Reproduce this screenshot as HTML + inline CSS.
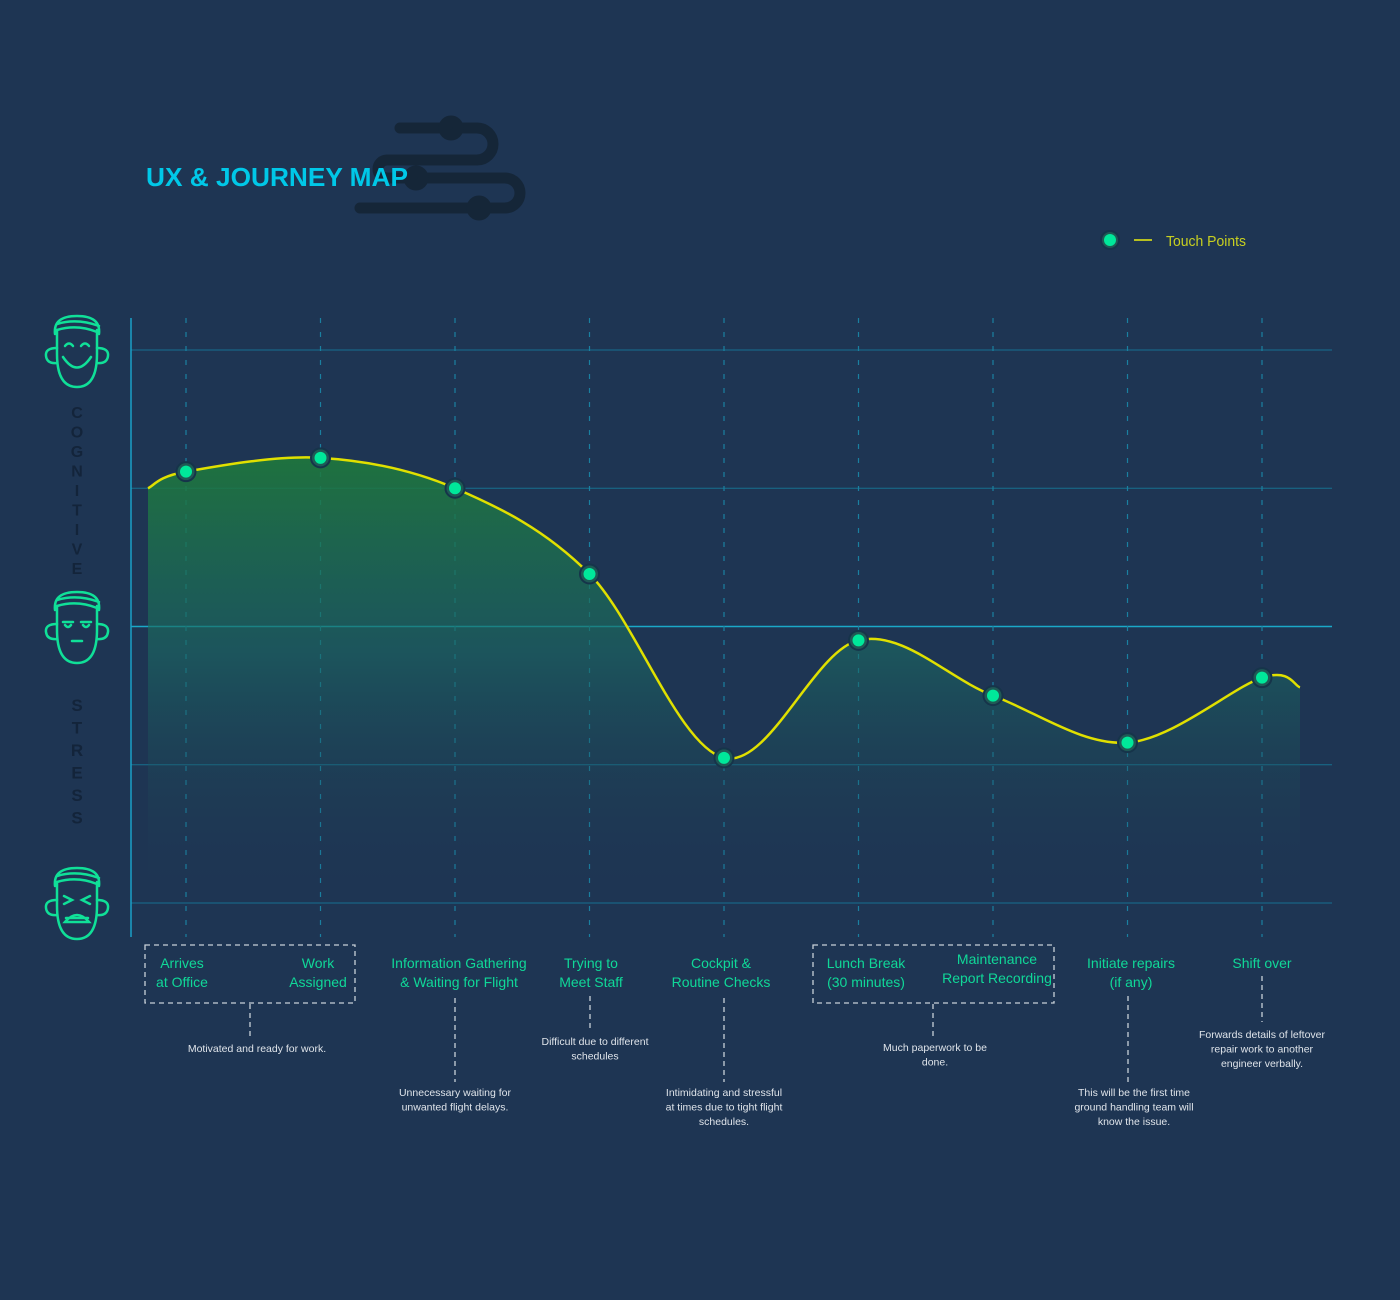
<!DOCTYPE html>
<html><head><meta charset="utf-8"><style>
html,body{margin:0;padding:0;background:#1e3553;}
body{width:1400px;height:1295px;overflow:hidden;font-family:"Liberation Sans",sans-serif;}
</style></head><body>
<svg id="chart" width="1400" height="1295" viewBox="0 0 1400 1295" xmlns="http://www.w3.org/2000/svg">
<defs>
<linearGradient id="fillg" gradientUnits="userSpaceOnUse" x1="0" y1="450" x2="0" y2="900">
<stop offset="0" stop-color="#1f7a3a" stop-opacity="0.9"/>
<stop offset="0.45" stop-color="#1a6a62" stop-opacity="0.6"/>
<stop offset="1" stop-color="#1e3553" stop-opacity="0"/>
</linearGradient>
</defs>
<rect x="0" y="0" width="1400" height="1295" fill="#1e3553"/>
<g fill="none" stroke="#152638" stroke-width="11" stroke-linecap="round">
<path d="M400 128 H477 A16 16 0 0 1 477 160 H387 A9 9 0 0 0 387 178 H505 A15 15 0 0 1 505 208 H360"/>
<circle cx="451" cy="128" r="7" fill="#152638"/>
<circle cx="416" cy="178" r="7" fill="#152638"/>
<circle cx="479" cy="208" r="7" fill="#152638"/>
</g>
<text x="146" y="186" font-family="Liberation Sans" font-weight="bold" font-size="26" textLength="262" lengthAdjust="spacingAndGlyphs" fill="#00c8e8">UX &amp; JOURNEY MAP</text>
<g>
<circle cx="1110" cy="240" r="9" fill="#1f5a55" stroke="#16344a" stroke-width="2"/>
<circle cx="1110" cy="240" r="6" fill="#00e89a"/>
<line x1="1134" y1="240" x2="1152" y2="240" stroke="#b8c020" stroke-width="2"/>
<text x="1166" y="246" font-size="14.5" textLength="80" lengthAdjust="spacingAndGlyphs" fill="#c8d020">Touch Points</text>
</g>
<g id="grid"></g>
<g id="faces"></g>
<g id="plot"></g>
<g id="labels"></g>
</svg>
<script>
const stages=["Arrives at Office","Work Assigned","Information Gathering & Waiting for Flight","Trying to Meet Staff","Cockpit & Routine Checks","Lunch Break (30 minutes)","Maintenance Report Recording","Initiate repairs (if any)","Shift over"];
const values=[3.12,3.22,3.0,2.38,1.05,1.9,1.5,1.16,1.63];
const startValue=3.0;
const endValue=1.56;
const levels=[0,1,2,3,4];
const NS="http://www.w3.org/2000/svg";
function el(tag,attrs,parent){const e=document.createElementNS(NS,tag);for(const k in attrs)e.setAttribute(k,attrs[k]);parent.appendChild(e);return e;}
const X0=186,DX=134.5;
function xs(i){return X0+i*DX;}
function ys(v){return 903-v*138.25;}
const grid=document.getElementById('grid');
levels.forEach(l=>{const ln=el('line',{x1:131,x2:1332,y1:ys(l),y2:ys(l),stroke:l===2?'#1aa8c8':'#177090','stroke-width':l===2?1.5:1},grid);
});
const ax=el('line',{x1:131,x2:131,y1:318,y2:937,stroke:'#1aa0c8','stroke-width':1.5},grid);

stages.forEach((s,i)=>{const ln=el('line',{x1:xs(i),x2:xs(i),y1:318,y2:937,stroke:'#1a80a0','stroke-width':1.2,'stroke-dasharray':'5 9'},grid);
});
const pts=[[148,ys(startValue)]].concat(values.map((v,i)=>[xs(i),ys(v)])).concat([[1300,ys(endValue)]]);
function cr(p){let d='M'+p[0][0]+' '+p[0][1];for(let i=0;i<p.length-1;i++){const p0=p[Math.max(0,i-1)],p1=p[i],p2=p[i+1],p3=p[Math.min(p.length-1,i+2)];const t=1/6;
d+=' C'+(p1[0]+(p2[0]-p0[0])*t)+' '+(p1[1]+(p2[1]-p0[1])*t)+' '+(p2[0]-(p3[0]-p1[0])*t)+' '+(p2[1]-(p3[1]-p1[1])*t)+' '+p2[0]+' '+p2[1];}return d;}
const plot=document.getElementById('plot');
const cd=cr(pts);
const area=el('path',{d:cd+' L1300 903 L148 903 Z',fill:'url(#fillg)'},plot);

const line=el('path',{d:cd,fill:'none',stroke:'#e0e000','stroke-width':2.5},plot);

values.forEach((v,i)=>{const g=el('g',{},plot);
el('circle',{cx:xs(i),cy:ys(v),r:9.5,fill:'#1f5a55',stroke:'#16344a','stroke-width':2},g);
el('circle',{cx:xs(i),cy:ys(v),r:6,fill:'#00e89a'},g);});
const faces=document.getElementById('faces');
function face(cy,type){const g=el('g',{fill:'none',stroke:'#10e098','stroke-width':2.5,'stroke-linecap':'round'},faces);

const cx=77;
el('path',{d:`M${cx-20} ${cy-22} V${cy+2} Q${cx-20} ${cy+35} ${cx} ${cy+35} Q${cx+20} ${cy+35} ${cx+20} ${cy+2} V${cy-22}`},g);
el('path',{d:`M${cx-22} ${cy-18} Q${cx-24} ${cy-36} ${cx} ${cy-36} Q${cx+24} ${cy-36} ${cx+22} ${cy-18} M${cx-20} ${cy-28} Q${cx} ${cy-34} ${cx+22} ${cy-26} M${cx-20} ${cy-22} Q${cx} ${cy-28} ${cx+20} ${cy-20}`},g);
el('path',{d:`M${cx-20} ${cy-4} Q${cx-32} ${cy-4} ${cx-31} ${cy+4} Q${cx-30} ${cy+12} ${cx-20} ${cy+11} M${cx+20} ${cy-4} Q${cx+32} ${cy-4} ${cx+31} ${cy+4} Q${cx+30} ${cy+12} ${cx+20} ${cy+11}`},g);
if(type==='happy'){el('path',{d:`M${cx-12} ${cy-6} Q${cx-8} ${cy-11} ${cx-4} ${cy-6} M${cx+4} ${cy-6} Q${cx+8} ${cy-11} ${cx+12} ${cy-6} M${cx-14} ${cy+5} Q${cx} ${cy+26} ${cx+14} ${cy+5}`},g);}
else if(type==='neutral'){el('path',{d:`M${cx-14} ${cy-6} H${cx-4} M${cx+4} ${cy-6} H${cx+14} M${cx-12} ${cy-3} Q${cx-9} ${cy+1} ${cx-6} ${cy-3} M${cx+6} ${cy-3} Q${cx+9} ${cy+1} ${cx+12} ${cy-3} M${cx-5} ${cy+13} H${cx+5}`},g);}
else{el('path',{d:`M${cx-13} ${cy-8} L${cx-5} ${cy-4} L${cx-13} ${cy} M${cx+13} ${cy-8} L${cx+5} ${cy-4} L${cx+13} ${cy} M${cx-12} ${cy+18} Q${cx} ${cy+4} ${cx+12} ${cy+18} Z M${cx-11} ${cy+14} H${cx+11}`},g);}
}
face(352,'happy');face(628,'neutral');face(904,'stress');
const word1="COGNITIVE",word2="STRESS";
[...word1].forEach((c,i)=>{const t=el('text',{x:77,y:418+i*19.5,'text-anchor':'middle','font-size':16,'font-weight':'bold',fill:'#13243a'},faces);t.textContent=c;});
[...word2].forEach((c,i)=>{const t=el('text',{x:77,y:711+i*22.5,'text-anchor':'middle','font-size':17,'font-weight':'bold',fill:'#13243a'},faces);t.textContent=c;});
const labels=document.getElementById('labels');
const stageLines=[["Arrives","at Office"],["Work","Assigned"],["Information Gathering","& Waiting for Flight"],["Trying to","Meet Staff"],["Cockpit &","Routine Checks"],["Lunch Break","(30 minutes)"],["Maintenance","Report Recording"],["Initiate repairs","(if any)"],["Shift over"]];
const labelX=[182,318,459,591,721,866,997,1131,1262];
const labelY=[968,968,968,968,968,968,964,968,968];
stageLines.forEach((ls,i)=>{const t=el('text',{x:labelX[i],y:labelY[i],'text-anchor':'middle','font-size':14,fill:'#10d898'},labels);

ls.forEach((l,j)=>{const s=el('tspan',{x:labelX[i],dy:j?19:0},t);s.textContent=l;});});
function box(x1,x2){const r=el('rect',{x:x1,y:945,width:x2-x1,height:58,fill:'none',stroke:'#c8d0d8','stroke-width':1.3,'stroke-dasharray':'5 4'},labels);}
box(145,355);box(813,1054);
const notes=[{x:257,lx:250,y1:1004,y2:1038,ty:1052,t:["Motivated and ready for work."]},
{x:455,lx:455,y1:998,y2:1082,ty:1096,t:["Unnecessary waiting for","unwanted flight delays."]},
{x:595,lx:590,y1:996,y2:1030,ty:1045,t:["Difficult due to different","schedules"]},
{x:724,lx:724,y1:998,y2:1082,ty:1096,t:["Intimidating and stressful","at times due to tight flight","schedules."]},
{x:935,lx:933,y1:1004,y2:1036,ty:1051,t:["Much paperwork to be","done."]},
{x:1134,lx:1128,y1:996,y2:1082,ty:1096,t:["This will be the first time","ground handling team will","know the issue."]},
{x:1262,lx:1262,y1:976,y2:1022,ty:1038,t:["Forwards details of leftover","repair work to another","engineer verbally."]}];
notes.forEach(n=>{const ln=el('line',{x1:n.lx,x2:n.lx,y1:n.y1,y2:n.y2,stroke:'#c8d0d8','stroke-width':1.3,'stroke-dasharray':'5 4'},labels);

const t=el('text',{x:n.x,y:n.ty,'text-anchor':'middle','font-size':10.5,fill:'#dfe4ea'},labels);

n.t.forEach((l,j)=>{const s=el('tspan',{x:n.x,dy:j?14.5:0},t);s.textContent=l;});});
</script>
</body></html>
